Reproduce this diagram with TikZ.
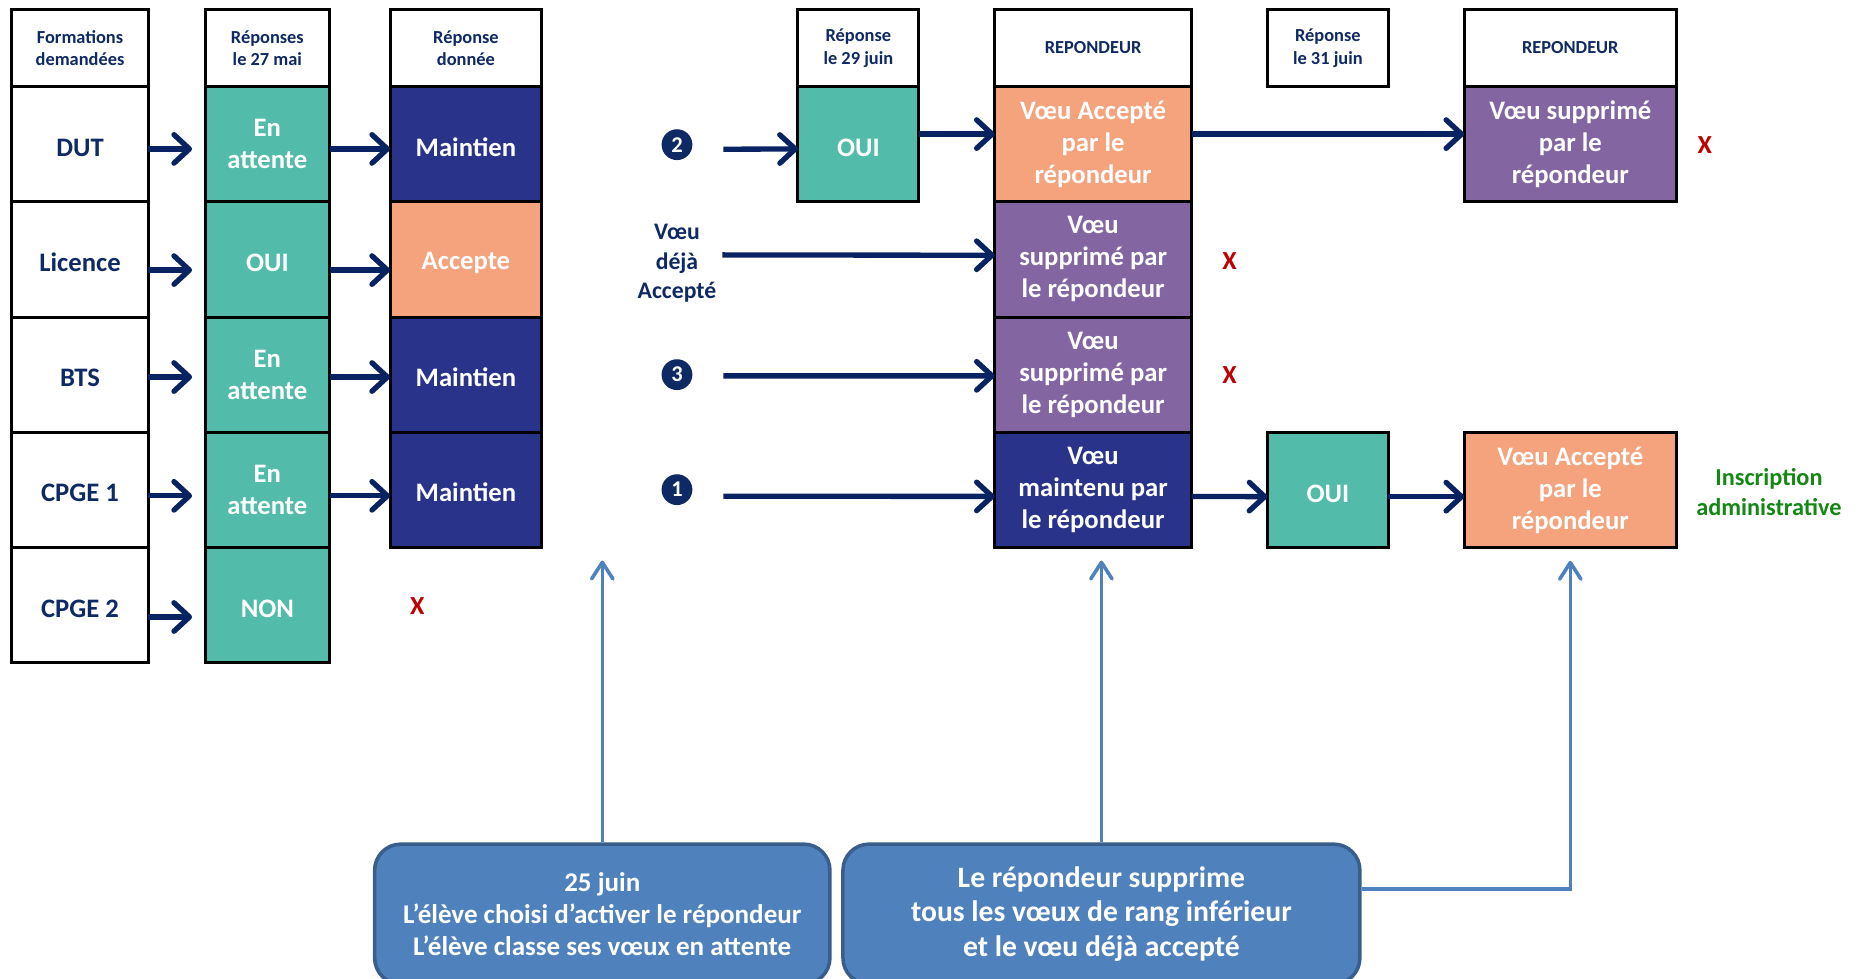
\documentclass[tikz,border=0pt]{standalone}
\usepackage{fontspec}
\setmainfont{Carlito}
\usepackage{tikz}
\usetikzlibrary{arrows.meta}
\usetikzlibrary{positioning}
\definecolor{navytxt}{RGB}{14,41,99}
\definecolor{navyarr}{RGB}{8,34,98}
\definecolor{cteal}{RGB}{82,187,170}
\definecolor{cnavy}{RGB}{41,51,138}
\definecolor{corange}{RGB}{244,163,124}
\definecolor{cpurple}{RGB}{131,101,161}
\definecolor{cblue}{RGB}{79,129,189}
\definecolor{cblueline}{RGB}{58,94,140}
\definecolor{cred}{RGB}{192,0,0}
\definecolor{cgreen}{RGB}{20,135,20}
\tikzset{
    head/.style={
           rectangle,
           draw=black, line width=2.5pt,
           minimum height=65pt,
           inner sep=2pt, outer sep=0pt,
           align=center, text=navytxt,
           font=\fontsize{15.5}{19}\selectfont\bfseries,
           },
    cell/.style={
           rectangle,
           draw=black, line width=2.5pt,
           minimum height=97.2pt,
           inner sep=2pt, outer sep=0pt,
           align=center, text=white,
           font=\fontsize{22.5}{27}\selectfont\bfseries,
           execute at begin node={\rule{0pt}{0.9em}},
           },
    formcell/.style={cell, text=navytxt},
    num/.style={circle, fill=navytxt, text=white, inner sep=0pt,
           minimum size=26pt, font=\fontsize{19}{19}\selectfont\bfseries},
    cross/.style={text=cred, font=\fontsize{22}{22}\selectfont\bfseries},
    bubble/.style={
           rectangle, rounded corners=22pt,
           fill=cblue, draw=cblueline, line width=3pt,
           inner sep=0pt, align=center, text=white,
           minimum height=118pt,
           },
    flow/.style={->, color=navyarr, line width=4.5pt},
    upflow/.style={-{Straight Barb[length=14pt,width=18pt,round]},
           color=cblue, line width=3pt, shorten >=11pt},
}

\begin{document}
\begin{tikzpicture}[x=1pt,y=-1pt,>={Straight Barb[length=13pt,width=24pt,round]}]
  \useasboundingbox (0,0) rectangle (1568,825);
  \clip (0,0) rectangle (1568,825);

  % formations
  \node[head,minimum width=115pt,anchor=north west] (h1) at (10,8) {Formations\\demandées};
  \node[formcell,minimum width=115pt] (dut)   [below=0pt of h1]    {DUT};
  \node[formcell,minimum width=115pt] (lic)   [below=0pt of dut]   {Licence};
  \node[formcell,minimum width=115pt] (bts)   [below=0pt of lic]   {BTS};
  \node[formcell,minimum width=115pt] (cpgeA) [below=0pt of bts]   {CPGE 1};
  \node[formcell,minimum width=115pt] (cpgeB) [below=0pt of cpgeA] {CPGE 2};

  % reponses 27 mai
  \node[head,minimum width=105pt,anchor=north west] (h2) at (173,8) {Réponses\\le 27 mai};
  \node[cell,fill=cteal,minimum width=105pt] (m1) [below=0pt of h2] {En\\attente};
  \node[cell,fill=cteal,minimum width=105pt] (m2) [below=0pt of m1] {OUI};
  \node[cell,fill=cteal,minimum width=105pt] (m3) [below=0pt of m2] {En\\attente};
  \node[cell,fill=cteal,minimum width=105pt] (m4) [below=0pt of m3] {En\\attente};
  \node[cell,fill=cteal,minimum width=105pt] (m5) [below=0pt of m4] {NON};

  % reponse donnee
  \node[head,minimum width=128pt,anchor=north west] (h3) at (329,8) {Réponse\\donnée};
  \node[cell,fill=cnavy,minimum width=128pt]   (d1) [below=0pt of h3] {Maintien};
  \node[cell,fill=corange,minimum width=128pt] (d2) [below=0pt of d1] {Accepte};
  \node[cell,fill=cnavy,minimum width=128pt]   (d3) [below=0pt of d2] {Maintien};
  \node[cell,fill=cnavy,minimum width=128pt]   (d4) [below=0pt of d3] {Maintien};

  % 29 juin
  \node[head,minimum width=102pt,anchor=north west] (h4) at (673,8) {Réponse\\le 29 juin};
  \node[cell,fill=cteal,minimum width=102pt] (j29) [below=0pt of h4] {OUI};

  % repondeur
  \node[head,minimum width=166pt,anchor=north west] (h5) at (839,8) {REPONDEUR};
  \node[cell,fill=corange,minimum width=166pt] (rp1) [below=0pt of h5]  {Vœu Accepté\\par le\\répondeur};
  \node[cell,fill=cpurple,minimum width=166pt] (rp2) [below=0pt of rp1] {Vœu\\supprimé par\\le répondeur};
  \node[cell,fill=cpurple,minimum width=166pt] (rp3) [below=0pt of rp2] {Vœu\\supprimé par\\le répondeur};
  \node[cell,fill=cnavy,minimum width=166pt]   (rp4) [below=0pt of rp3] {Vœu\\maintenu par\\le répondeur};

  % 31 juin
  \node[head,minimum width=102pt,anchor=north west] (h6) at (1069,8) {Réponse\\le 31 juin};
  \node[cell,fill=cteal,minimum width=102pt,anchor=north west] (j31) at (1069,364.8) {OUI};

  % repondeur (2)
  \node[head,minimum width=179pt,anchor=north west] (h7) at (1235,8) {REPONDEUR};
  \node[cell,fill=cpurple,minimum width=179pt] (rq1) [below=0pt of h7] {Vœu supprimé\\par le\\répondeur};
  \node[cell,fill=corange,minimum width=179pt,anchor=north west] (rq4) at (1235,364.8) {Vœu Accepté\\par le\\répondeur};

  \node[num] (n2) at (571,122) {2};
  \node[num] (n3) at (571,316) {3};
  \node[num] (n1) at (571,413) {1};
  \node[align=center,text=navytxt,inner sep=0pt,
        font=\fontsize{20}{24.5}\selectfont\bfseries] (deja) at (571,222) {Vœu\\déjà\\Accepté};

  \node[cross] (xa) at (352,511)  {X};
  \node[cross] (xb) at (1037,220) {X};
  \node[cross] (xc) at (1037,316) {X};
  \node[cross] (xd) at (1438,122) {X};
  \node[align=center,text=cgreen,
        font=\fontsize{20.5}{24.5}\selectfont\bfseries] (insc) at (1492,415) {Inscription\\administrative};

  \node[bubble,minimum width=384pt,font=\fontsize{22.8}{27}\selectfont\bfseries] (box1) at (508,771)
        {25 juin\\L’élève choisi d’activer le répondeur\\L’élève classe ses vœux en attente};
  \node[bubble,minimum width=436pt,font=\fontsize{25}{29.5}\selectfont\bfseries] (box2) at (929,771)
        {Le répondeur supprime\\tous les vœux de rang inférieur\\et le vœu déjà accepté};

  \path[flow] ([yshift=-4pt]dut.east)   edge [shorten >=11pt] ([yshift=-4pt]m1.west)
              ([yshift=-9pt]lic.east)   edge [shorten >=11pt] ([yshift=-9pt]m2.west)
              ([yshift=-2pt]bts.east)   edge [shorten >=11pt] ([yshift=-2pt]m3.west)
              ([yshift=-5pt]cpgeA.east) edge [shorten >=11pt] ([yshift=-5pt]m4.west)
              ([yshift=-10pt]cpgeB.east) edge [shorten >=11pt] ([yshift=-10pt]m5.west)
              ([yshift=-4pt]m1.east) edge ([yshift=-4pt]d1.west)
              ([yshift=-9pt]m2.east) edge ([yshift=-9pt]d2.west)
              ([yshift=-2pt]m3.east) edge ([yshift=-2pt]d3.west)
              ([yshift=-5pt]m4.east) edge ([yshift=-5pt]d4.west)
              ([yshift=-4pt]n2.east) edge [shorten <=26pt] ([yshift=-4pt]j29.west)
              ([yshift=8.5pt]j29.east) edge ([yshift=8.5pt]rp1.west)
              ([yshift=8.5pt]rp1.east) edge ([yshift=8.5pt]rq1.west)
              ([yshift=7pt]deja.east) edge [shorten <=5pt] ([yshift=3.5pt]rp2.west)
              ([yshift=-1pt]n3.east) edge [shorten <=26pt] ([yshift=-1pt]rp3.west)
              ([yshift=-5.5pt]n1.east) edge [shorten <=26pt] ([yshift=-5.5pt]rp4.west)
              ([yshift=-5.5pt]rp4.east) edge ([yshift=-5.5pt]j31.west)
              ([yshift=-5.5pt]j31.east) edge ([yshift=-5.5pt]rq4.west);

  \path[upflow] (box1.north) edge (box1.north |- d4.south)
                (box2.north) edge (box2.north |- rp4.south);
  \draw[upflow] ([yshift=21pt]box2.east) -| (rq4.south);
\end{tikzpicture}
\end{document}
